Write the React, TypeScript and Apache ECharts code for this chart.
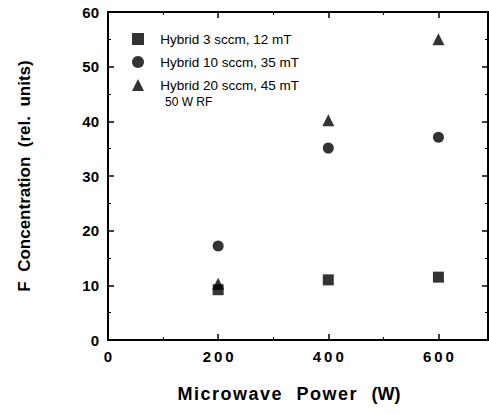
import React, { useEffect, useRef } from "react";
import * as echarts from "echarts";

const xValues = [200, 400, 600];
const hybrid3 = [9.2, 11.0, 11.5];
const hybrid10 = [17.2, 35.1, 37.1];
const hybrid20 = [10.3, 40.2, 55.0];
const seriesNames = ["Hybrid 3 sccm, 12 mT", "Hybrid 10 sccm, 35 mT", "Hybrid 20 sccm, 45 mT"];
const note = "50 W RF";

const spaced = (s: string, sep: string) => s.split("").join(sep);

export default function App() {
  const ref = useRef<HTMLDivElement>(null);
  useEffect(() => {
    document.body.style.margin = "0";
    const chart = echarts.init(ref.current!, null, { renderer: "svg" });
    const font = "'Liberation Sans', Arial, sans-serif";
    const mk = (vals: number[]) => vals.map((v, i) => [xValues[i], v]);
    const axisCommon = {
      axisLine: { show: true, onZero: false, lineStyle: { color: "#000", width: 2 } },
      axisTick: { show: true, inside: true, length: 6, lineStyle: { color: "#000", width: 1.5 } },
      minorTick: { show: true, splitNumber: 2, length: 3, lineStyle: { color: "#000", width: 1 } },
      splitLine: { show: false },
    };
    chart.setOption({
      animation: false,
      backgroundColor: "#fff",
      grid: { left: 108, top: 12, width: 380, height: 328, show: true, borderColor: "#000", borderWidth: 2 },
      xAxis: [
        {
          type: "value", min: 0, max: 690, interval: 200,
          ...axisCommon,
          axisLabel: {
            color: "#000", fontFamily: font, fontWeight: "bold", fontSize: 15, margin: 9,
            showMaxLabel: false,
            formatter: (v: number) => (v % 200 === 0 ? spaced(String(v), "\u2009") : ""),
          },
          name: spaced("Microwave", "\u200A") + "   " + spaced("Power", "\u200A") + "   (W)",
          nameLocation: "middle", nameGap: 45,
          nameTextStyle: { color: "#000", fontFamily: font, fontWeight: "bold", fontSize: 18, padding: [0, 18, 0, 0] },
        },
        {
          type: "value", min: 0, max: 690, interval: 200, position: "top",
          ...axisCommon, axisLabel: { show: false },
        },
      ],
      yAxis: [
        {
          type: "value", min: 0, max: 60, interval: 10,
          ...axisCommon,
          axisLabel: { color: "#000", fontFamily: font, fontWeight: "bold", fontSize: 15, margin: 9 },
          name: "F  Concentration  (rel.  units)",
          nameLocation: "middle", nameGap: 75,
          nameTextStyle: { color: "#000", fontFamily: font, fontWeight: "bold", fontSize: 17 },
        },
        {
          type: "value", min: 0, max: 60, interval: 10, position: "right",
          ...axisCommon, axisLabel: { show: false },
        },
      ],
      legend: {
        orient: "vertical", left: 132, top: 32, padding: 0, itemGap: 9,
        itemWidth: 12, itemHeight: 12,
        textStyle: { color: "#000", fontFamily: font, fontSize: 13.5 },
        formatter: (n: string) => "   " + n,
        data: seriesNames,
      },
      graphic: [
        {
          type: "text", left: 165, top: 96,
          style: { text: note, fill: "#000", font: `12px ${font}` },
        },
      ],
      series: [
        { type: "scatter", name: seriesNames[0], data: mk(hybrid3), symbol: "rect", symbolSize: 11, itemStyle: { color: "#000" } },
        { type: "scatter", name: seriesNames[1], data: mk(hybrid10), symbol: "circle", symbolSize: 11, itemStyle: { color: "#000" } },
        { type: "scatter", name: seriesNames[2], data: mk(hybrid20), symbol: "triangle", symbolSize: 12, itemStyle: { color: "#000" } },
      ],
    });
    return () => chart.dispose();
  }, []);
  return <div ref={ref} style={{ width: 489, height: 414 }} />;
}
